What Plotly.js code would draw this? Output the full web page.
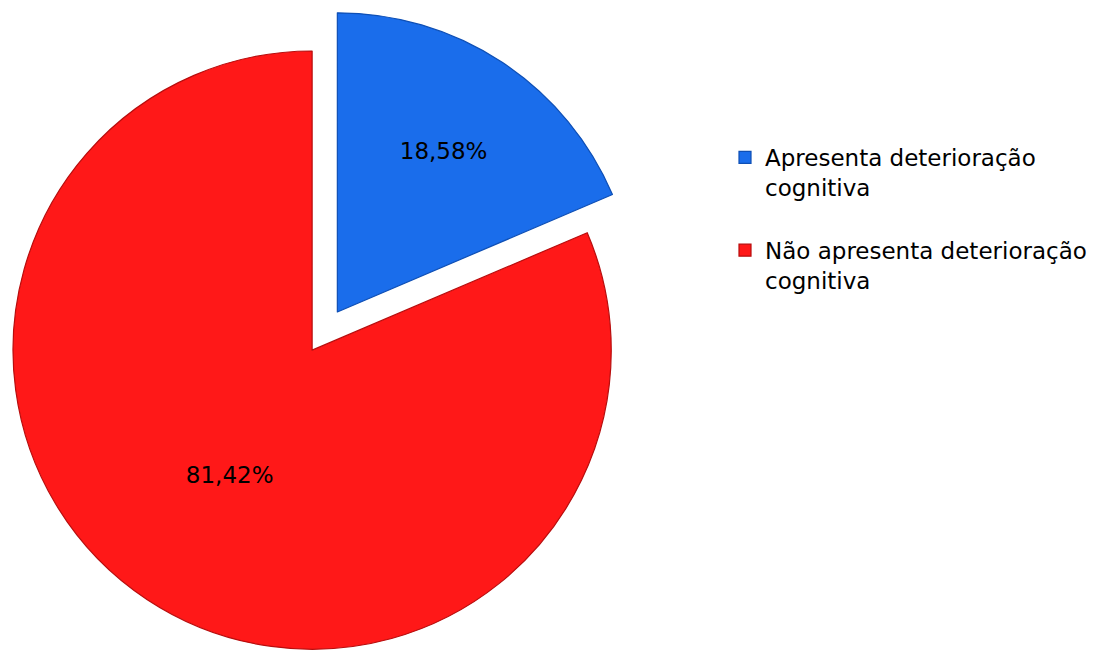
<!DOCTYPE html>
<html>
<head>
<meta charset="utf-8">
<script src="https://cdn.plot.ly/plotly-3.0.1.min.js"></script>
<style>
html, body { margin:0; padding:0; overflow:hidden; background:#fff; width:1098px; height:650px; }
#chart { position:absolute; left:-40px; top:0; width:1140px; height:700px; }
</style>
</head>
<body>
<div id="chart"></div>
<script>
const categories = ["Apresenta deterioração<br>cognitiva<br> ", "Não apresenta deterioração<br>cognitiva"];
const values = [18.58, 81.42];
const sliceColors = ["#1A6DEB", "#FF1818"];
const edgeColors = ["#0E4FB5", "#B80D0D"];
const pulls = [0.153, 0];

const trace = {
  type: "pie",
  labels: categories,
  values: values,
  sort: false,
  direction: "clockwise",
  rotation: 0,
  pull: pulls,
  marker: { colors: sliceColors, line: { color: edgeColors, width: 1.2 } },
  texttemplate: "%{percent:.2%}",
  textposition: "inside",
  insidetextorientation: "horizontal",
  textfont: { family: "DejaVu Sans", size: 23, color: "#000" },
  hoverinfo: "none",
  domain: { x: [7.25/1140, 697/1140], y: [1 - 695/700, 1 - 5.25/700] }
};

const layout = {
  width: 1140, height: 700,
  margin: { l: 0, r: 0, t: 0, b: 0 },
  paper_bgcolor: "#ffffff",
  separators: ",.",
  showlegend: true,
  legend: {
    x: 765/1140, y: 1 - 136/700, xanchor: "left", yanchor: "top",
    valign: "top",
    font: { family: "DejaVu Sans", size: 23, color: "#000" },
    traceorder: "normal"
  }
};

Plotly.newPlot("chart", [trace], layout, { displayModeBar: false, staticPlot: true });
</script>
</body>
</html>
